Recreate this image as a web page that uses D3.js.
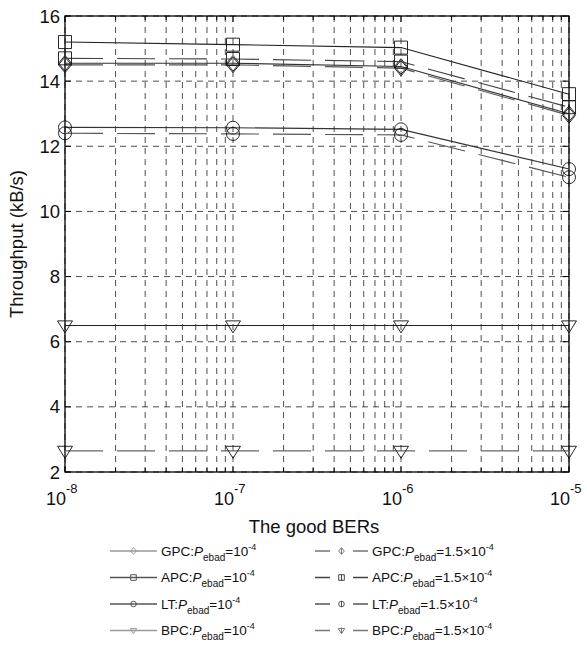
<!DOCTYPE html>
<html>
<head>
<meta charset="utf-8">
<script src="https://cdn.jsdelivr.net/npm/d3@7"></script>
<style>
body { margin: 0; background: #fff; }
text { font-family: "Liberation Sans", Arial, sans-serif; fill: #111; }
</style>
</head>
<body>
<svg id="chart" width="587" height="650"></svg>
<script>
// data
var bers = [1e-8, 1e-7, 1e-6, 1e-5];
var gpc1 = [14.55, 14.55, 14.45, 13.0];
var gpc15 = [14.5, 14.5, 14.4, 12.95];
var apc1 = [15.2, 15.12, 15.03, 13.6];
var apc15 = [14.7, 14.68, 14.6, 13.2];
var lt1 = [12.58, 12.57, 12.52, 11.3];
var lt15 = [12.4, 12.38, 12.35, 11.05];
var bpc1 = [6.5, 6.5, 6.5, 6.5];
var bpc15 = [2.65, 2.65, 2.65, 2.65];
var yTicks = [2, 4, 6, 8, 10, 12, 14, 16];
var xExps = [-8, -7, -6, -5];

var series = [
	{ name: "GPC", pe: "10", values: gpc1, marker: "diamond", dashed: false, color: "#333", legendColor: "#999" },
	{ name: "APC", pe: "10", values: apc1, marker: "square", dashed: false, color: "#222", legendColor: "#555" },
	{ name: "LT", pe: "10", values: lt1, marker: "circle", dashed: false, color: "#333", legendColor: "#555" },
	{ name: "BPC", pe: "10", values: bpc1, marker: "triangle", dashed: false, color: "#222", legendColor: "#999" },
	{ name: "GPC", pe: "1.5\u00d710", values: gpc15, marker: "diamond", dashed: true, color: "#555", legendColor: "#777" },
	{ name: "APC", pe: "1.5\u00d710", values: apc15, marker: "square", dashed: true, color: "#444", legendColor: "#444" },
	{ name: "LT", pe: "1.5\u00d710", values: lt15, marker: "circle", dashed: true, color: "#555", legendColor: "#555" },
	{ name: "BPC", pe: "1.5\u00d710", values: bpc15, marker: "triangle", dashed: true, color: "#666", legendColor: "#777" }
];

var svg = d3.select("#chart");
var pLeft = 65, pRight = 569, pTop = 16, pBottom = 472;

var x = d3.scaleLog().domain([1e-8, 1e-5]).range([pLeft, pRight]);
var y = d3.scaleLinear().domain([2, 16]).range([pBottom, pTop]);

// minor log positions
var minors = [];
for (var e = -8; e < -5; e++) {
	for (var k = 2; k <= 9; k++) minors.push(k * Math.pow(10, e));
}
var allX = minors.concat(bers);

// grid
var grid = svg.append("g").attr("stroke", "#222").attr("stroke-width", 0.8)
	.attr("stroke-dasharray", "6,5");
grid.selectAll(".vg").data(allX).enter().append("line")
	.attr("x1", function(d) { return x(d); })
	.attr("x2", function(d) { return x(d); })
	.attr("y1", pTop).attr("y2", pBottom);
grid.selectAll(".hg").data(yTicks).enter().append("line")
	.attr("x1", pLeft).attr("x2", pRight)
	.attr("y1", function(d) { return y(d); })
	.attr("y2", function(d) { return y(d); });

// ticks (inward, on all four sides)
var ticks = svg.append("g").attr("stroke", "#000").attr("stroke-width", 1);
allX.forEach(function(d) {
	var len = bers.indexOf(d) >= 0 ? 6 : 4;
	ticks.append("line").attr("x1", x(d)).attr("x2", x(d)).attr("y1", pBottom).attr("y2", pBottom - len);
	ticks.append("line").attr("x1", x(d)).attr("x2", x(d)).attr("y1", pTop).attr("y2", pTop + len);
});
yTicks.forEach(function(d) {
	ticks.append("line").attr("x1", pLeft).attr("x2", pLeft + 6).attr("y1", y(d)).attr("y2", y(d));
	ticks.append("line").attr("x1", pRight).attr("x2", pRight - 6).attr("y1", y(d)).attr("y2", y(d));
});

// frame
svg.append("rect").attr("x", pLeft).attr("y", pTop)
	.attr("width", pRight - pLeft).attr("height", pBottom - pTop)
	.attr("fill", "none").attr("stroke", "#000").attr("stroke-width", 1.3);

// tick labels
svg.selectAll(".yl").data(yTicks).enter().append("text")
	.attr("x", pLeft - 5).attr("y", function(d) { return y(d) + 6.5; })
	.attr("text-anchor", "end").attr("font-size", 18.5)
	.text(function(d) { return d; });

xExps.forEach(function(p) {
	var t = svg.append("text").attr("x", x(Math.pow(10, p)) + 1).attr("y", 505)
		.attr("text-anchor", "end").attr("font-size", 18);
	t.append("tspan").text("10");
	var sup = svg.append("text").attr("x", x(Math.pow(10, p)) + 1).attr("y", 493)
		.attr("font-size", 13).text(p);
});

svg.append("text").attr("x", 314).attr("y", 533).attr("text-anchor", "middle")
	.attr("font-size", 18.5).text("The good BERs");
svg.append("text").attr("transform", "translate(23,244) rotate(-90)")
	.attr("text-anchor", "middle").attr("font-size", 18.5).text("Throughput (kB/s)");

// marker shapes
function markerPath(type, s) {
	if (type == "square") return "M" + (-s) + "," + (-s) + "h" + 2 * s + "v" + 2 * s + "h" + (-2 * s) + "Z";
	if (type == "diamond") return "M0," + (-s * 1.2) + "L" + s + ",0L0," + (s * 1.2) + "L" + (-s) + ",0Z";
	if (type == "triangle") return "M" + (-s * 1.15) + "," + (-s * 0.7) + "L" + s * 1.15 + "," + (-s * 0.7) + "L0," + s * 1.15 + "Z";
	return d3.arc()({ innerRadius: 0, outerRadius: s, startAngle: 0, endAngle: 2 * Math.PI });
}

var line = d3.line()
	.x(function(d, i) { return x(bers[i]); })
	.y(function(d) { return y(d); });

series.forEach(function(s) {
	svg.append("path").datum(s.values)
		.attr("d", line)
		.attr("fill", "none")
		.attr("stroke", s.color)
		.attr("stroke-width", 1.1)
		.attr("stroke-dasharray", s.dashed ? "38,14" : null);
	svg.selectAll(null).data(s.values).enter().append("path")
		.attr("transform", function(d, i) { return "translate(" + x(bers[i]) + "," + y(d) + ")"; })
		.attr("d", markerPath(s.marker, 6.5))
		.attr("fill", "none")
		.attr("stroke", "#111")
		.attr("stroke-width", 0.9);
});

// legend
var legend = svg.append("g");
series.forEach(function(s, i) {
	var col = s.dashed ? 1 : 0;
	var row = i % 4;
	var lx = col ? 315 : 110;
	var ly = 551 + row * 26.5;
	var w = col ? 53 : 47;
	var g = legend.append("g").attr("transform", "translate(" + lx + "," + ly + ")");
	g.append("line").attr("x1", 0).attr("x2", w).attr("y1", 0).attr("y2", 0)
		.attr("stroke", s.legendColor).attr("stroke-width", 1.3)
		.attr("stroke-dasharray", s.dashed ? "15,23,15" : null);
	g.append("path").attr("transform", "translate(" + w / 2 + ",0)")
		.attr("d", markerPath(s.marker, 2.8))
		.attr("fill", "none").attr("stroke", s.legendColor).attr("stroke-width", 1);
	if (s.dashed) {
		g.append("line").attr("x1", w / 2).attr("x2", w / 2).attr("y1", -3).attr("y2", 3)
			.attr("stroke", s.legendColor).attr("stroke-width", 1);
	}
	var t = g.append("text").attr("x", w + 4).attr("y", 4.5).attr("font-size", 13.5);
	t.append("tspan").text(s.name + ":");
	t.append("tspan").attr("font-style", "italic").text("P");
	t.append("tspan").attr("dy", 5).attr("font-size", 10).text("ebad");
	t.append("tspan").attr("dy", -5).text("=" + s.pe);
	t.append("tspan").attr("dy", -6).attr("font-size", 9).text("-4");
});
</script>
</body>
</html>
